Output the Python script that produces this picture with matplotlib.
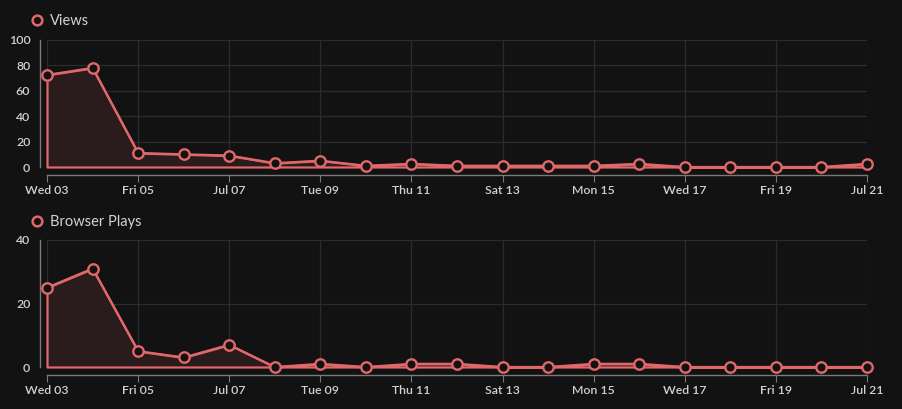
import matplotlib
matplotlib.use("Agg")
import matplotlib.pyplot as plt
from matplotlib.lines import Line2D

days = ["Wed 03", "Thu 04", "Fri 05", "Sat 06", "Jul 07", "Mon 08", "Tue 09",
        "Wed 10", "Thu 11", "Fri 12", "Sat 13", "Sun 14", "Mon 15", "Tue 16",
        "Wed 17", "Thu 18", "Fri 19", "Sat 20", "Jul 21"]
views = [72.5, 78, 11, 10, 9, 3, 5, 1, 2.5, 1, 1, 1, 1, 2.5, 0, 0, 0, 0, 2.5]
plays = [25, 31, 5, 3, 7, 0, 1, 0, 1, 1, 0, 0, 1, 1, 0, 0, 0, 0, 0]

views_ticks = [0, 20, 40, 60, 80, 100]
plays_ticks = [0, 20, 40]

bg = "#121212"
red = "#e0676a"
fill = "#2a1c1c"
grid = "#2c2c2c"
axis_col = "#7a7a7a"
text_col = "#d2d2d2"

plt.rcParams["font.family"] = ["Lato", "DejaVu Sans"]

W, H = 902, 409
fig = plt.figure(figsize=(W / 100, H / 100), dpi=100, facecolor=bg)

panels = [
    ("Views", views, views_ticks, 40, 167, 21),
    ("Browser Plays", plays, plays_ticks, 240, 367, 222),
]

x = list(range(len(days)))
for name, vals, yt, top, bottom, leg_y in panels:
    ax = fig.add_axes([47 / W, 1 - bottom / H, 820 / W, (bottom - top) / H])
    ax.set_facecolor(bg)
    ax.set_xlim(0, len(days) - 1)
    ax.set_ylim(yt[0], yt[-1])

    # area + outline
    ax.fill_between(x, vals, 0, facecolor=fill, edgecolor=red, linewidth=1.6,
                    clip_on=False, zorder=2)
    ax.plot(x, vals, color=red, linewidth=1.6, clip_on=False, zorder=3)
    ax.plot(x, vals, linestyle="none", marker="o", markersize=7.5,
            markerfacecolor=bg, markeredgecolor=red, markeredgewidth=1.7,
            clip_on=False, zorder=4)

    # grid
    xt = x[::2]
    ax.set_xticks(xt)
    ax.set_xticklabels(days[::2])
    ax.set_yticks(yt)
    ax.grid(True, color=grid, linewidth=0.9)
    ax.set_axisbelow(True)

    for s in ["top", "right"]:
        ax.spines[s].set_visible(False)
    ax.spines["left"].set_position(("outward", 5))
    ax.spines["bottom"].set_position(("outward", 6))
    for s in ["left", "bottom"]:
        ax.spines[s].set_color(axis_col)
        ax.spines[s].set_linewidth(1)

    ax.tick_params(axis="y", length=0, pad=7, labelsize=8.8, colors=text_col)
    ax.set_yticks([yt[0], yt[-1]], minor=True)
    ax.tick_params(axis="y", which="minor", length=5, color=axis_col)
    ax.tick_params(axis="x", length=5, pad=2, labelsize=8.8, colors=text_col,
                   color=axis_col)
    for lbl in ax.get_xticklabels() + ax.get_yticklabels():
        lbl.set_fontweight("semibold")

    handle = Line2D([], [], linestyle="none", marker="o", markersize=7,
                    markerfacecolor=bg, markeredgecolor=red, markeredgewidth=1.8)
    leg = fig.legend([handle], [name], loc="center left",
                     bbox_to_anchor=(30 / W, 1 - leg_y / H), frameon=False,
                     borderpad=0, borderaxespad=0, handlelength=1,
                     handletextpad=0.4, fontsize=10.5)
    for t in leg.get_texts():
        t.set_color(text_col)

fig.savefig("out.png", dpi=100, facecolor=bg)
